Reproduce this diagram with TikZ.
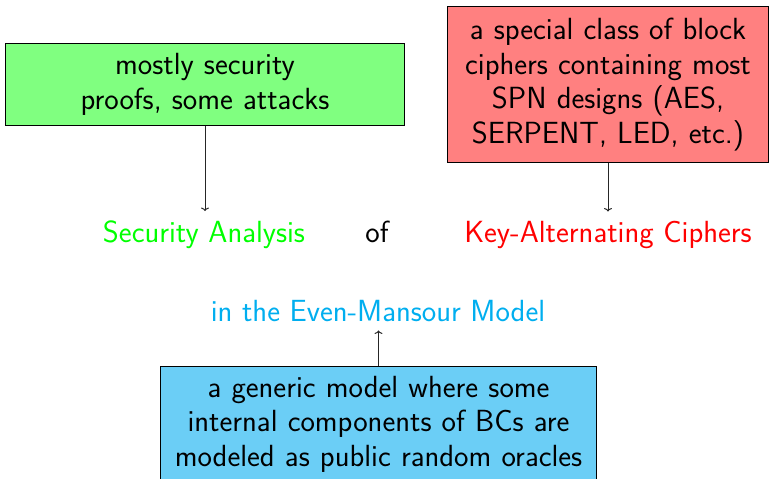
\documentclass[tikz,border=0pt]{standalone}
\usepackage{fontspec}
\usetikzlibrary{arrows.meta}

\definecolor{emtext}{RGB}{0,174,239}
\definecolor{emfill}{RGB}{107,206,246}

\tikzset{
  note/.style={draw=black, line width=1pt, rectangle, align=center,
    inner sep=9.7pt, anchor=north west},
  term/.style={anchor=base, inner sep=9pt},
  pointer/.style={draw=black!85, line width=1pt, -{To[length=3.5pt,width=8pt]}}
}

\begin{document}
\begin{tikzpicture}[x=1pt, y=-1pt, font=\sffamily\fontsize{30.6}{34.5}\selectfont]
  \useasboundingbox (0,0) rectangle (769,479);

  % explanatory boxes
  \node[note, fill=green!50, text width=379.6pt, minimum height=82pt] (proofs) at (5,43)
    {mostly security\\proofs, some attacks};
  \node[note, fill=red!50, text width=301.6pt, minimum height=156pt] (kacdef) at (447,6)
    {a special class of block\\ciphers containing most\\SPN designs (AES,\\SERPENT, LED, etc.)};
  \node[note, fill=emfill, text width=416.6pt, minimum height=115pt] (emdef) at (160,366)
    {a generic model where some\\internal components of BCs are\\modeled as public random oracles};

  % the title phrase
  \node[term, text=green] (sec) at (204,242) {Security Analysis};
  \node[term] (of) at (377,242) {of};
  \node[term, text=red] (kac) at (608,242) {Key-Alternating Ciphers};
  \node[term, text=emtext] (em) at (378,321) {in the Even-Mansour Model};

  % pointers from boxes to phrase parts
  \draw[pointer] (proofs.south) -- (proofs.south |- sec.north);
  \draw[pointer] (kacdef.south) -- (kacdef.south |- kac.north);
  \draw[pointer] (emdef.north) -- (emdef.north |- em.south);
\end{tikzpicture}
\end{document}
